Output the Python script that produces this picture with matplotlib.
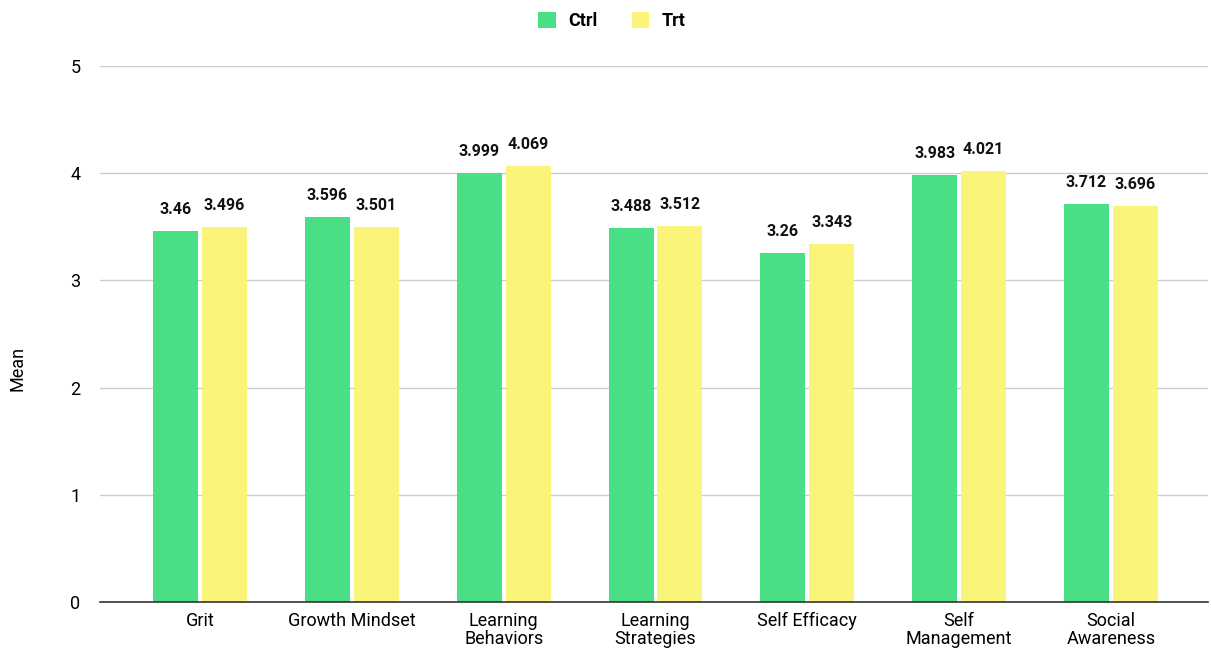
import matplotlib
matplotlib.use('Agg')
import matplotlib.pyplot as plt
import numpy as np

plt.rcParams['font.family'] = ['Roboto', 'DejaVu Sans']

categories = ['Grit', 'Growth Mindset', 'Learning\nBehaviors', 'Learning\nStrategies',
              'Self Efficacy', 'Self\nManagement', 'Social\nAwareness']
ctrl = [3.46, 3.596, 3.999, 3.488, 3.26, 3.983, 3.712]
trt = [3.496, 3.501, 4.069, 3.512, 3.343, 4.021, 3.696]
ctrl_labels = ['3.46', '3.596', '3.999', '3.488', '3.26', '3.983', '3.712']
trt_labels = ['3.496', '3.501', '4.069', '3.512', '3.343', '4.021', '3.696']

GREEN = '#4ADE85'
YELLOW = '#FAF57A'

fig = plt.figure(figsize=(12.11, 6.51), dpi=100)
ax = fig.add_axes([100 / 1211, 49 / 651, 1108 / 1211, 536 / 651])

x = np.arange(len(categories))
width = 0.296
offset = 0.161

bars_c = ax.bar(x - offset, ctrl, width, color=GREEN, label='Ctrl', zorder=3)
bars_t = ax.bar(x + offset, trt, width, color=YELLOW, label='Trt', zorder=3)

for bars, labels in ((bars_c, ctrl_labels), (bars_t, trt_labels)):
    for bar, txt in zip(bars, labels):
        ax.text(bar.get_x() + bar.get_width() / 2, bar.get_height() + 0.13, txt,
                ha='center', va='bottom', fontsize=11.5, fontweight='bold', color='#111111')

ax.set_xlim(-0.66, 6.64)
ax.set_ylim(0, 5)
ax.set_yticks(range(6))
ax.set_xticks(x)
ax.set_xticklabels(categories, fontsize=13, linespacing=1.05)
ax.tick_params(axis='y', length=0, pad=14, labelsize=13)
ax.tick_params(axis='x', length=0, pad=7)
ax.grid(axis='y', color='#cccccc', linewidth=1, zorder=0)
for s in ('top', 'right', 'left'):
    ax.spines[s].set_visible(False)
ax.spines['bottom'].set_color('#333333')
ax.spines['bottom'].set_linewidth(1.2)
ax.spines['bottom'].set_zorder(4)

fig.text(17 / 1211, 1 - 368 / 651, 'Mean', rotation=90, ha='center', va='center', fontsize=13)

leg = fig.legend(handles=[bars_c, bars_t], loc='center', bbox_to_anchor=(612 / 1211, 1 - 21 / 651),
                 ncol=2, frameon=False, handlelength=0.95, handleheight=0.95,
                 columnspacing=1.9, handletextpad=0.7, prop={'size': 13, 'weight': 'bold'})

fig.savefig('out.png', dpi=100)
